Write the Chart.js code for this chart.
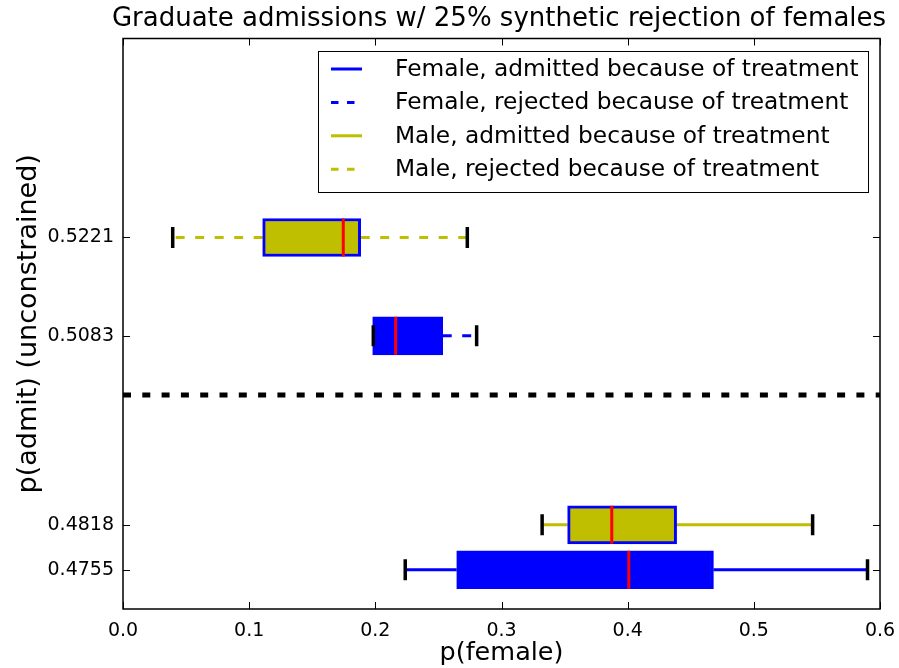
<!DOCTYPE html>
<html>
<head>
<meta charset="utf-8">
<title>Graduate admissions w/ 25% synthetic rejection of females</title>
<script src="https://cdn.jsdelivr.net/npm/chart.js"></script>
<style>
    html, body { margin: 0; padding: 0; background: #ffffff; }
    #wrap { width: 899px; height: 668px; }
</style>
</head>
<body>
<div id="wrap"><canvas id="admissionsBoxChart" width="899" height="668"></canvas></div>
<script>
const titleText = 'Graduate admissions w/ 25% synthetic rejection of females';
const xAxisLabel = 'p(female)';
const yAxisLabel = 'p(admit) (unconstrained)';

// one entry per box, top to bottom
const boxGroups = ['male-rejected', 'female-rejected', 'male-admitted', 'female-admitted'];
const admitLevels = [0.5221, 0.5083, 0.4818, 0.4755];
const whiskerLow = [0.0394, 0.1984, 0.3322, 0.2237];
const quartileLow = [0.1107, 0.1979, 0.3524, 0.2645];
const medians = [0.1746, 0.2161, 0.3874, 0.4009];
const quartileHigh = [0.1884, 0.2534, 0.4388, 0.4680];
const whiskerHigh = [0.2729, 0.2803, 0.5466, 0.5901];

const thresholdLevel = 0.5;
const xTickValues = [0.0, 0.1, 0.2, 0.3, 0.4, 0.5, 0.6];
const yTickValues = [0.4755, 0.4818, 0.5083, 0.5221];

const legendGroups = ['female-admitted', 'female-rejected', 'male-admitted', 'male-rejected'];
const legendLabels = [
    'Female, admitted because of treatment',
    'Female, rejected because of treatment',
    'Male, admitted because of treatment',
    'Male, rejected because of treatment',
];

const FONT = '"DejaVu Sans", "Liberation Sans", sans-serif';
const BLUE = '#0000ff';
const OLIVE = '#bfbf00';
const RED = '#ff0000';
const BLACK = '#000000';
const WHISKER_DASH = [9, 10.5];

const groupStyles = {
    'female-admitted': { color: BLUE, dash: [] },
    'female-rejected': { color: BLUE, dash: WHISKER_DASH },
    'male-admitted': { color: OLIVE, dash: [] },
    'male-rejected': { color: OLIVE, dash: WHISKER_DASH },
};

Chart.defaults.font.family = FONT;
Chart.defaults.color = BLACK;

const whiskerDatasets = boxGroups.map((group, i) => ({
    type: 'line',
    label: group + ' whiskers',
    data: [
        { x: quartileLow[i], y: admitLevels[i] },
        { x: whiskerLow[i], y: admitLevels[i] },
        { x: null, y: admitLevels[i] },
        { x: quartileHigh[i], y: admitLevels[i] },
        { x: whiskerHigh[i], y: admitLevels[i] },
    ],
    borderColor: groupStyles[group].color,
    borderDash: groupStyles[group].dash,
    borderWidth: 3,
    borderCapStyle: 'butt',
    pointRadius: 0,
    spanGaps: false,
    fill: false,
    order: 3,
}));

// title centred over the axes, ticks pointing inward, frame and legend box
const frameAndLegend = {
    id: 'frameAndLegend',
    afterDraw(chart) {
        const { ctx, chartArea: area, scales } = chart;
        const tickLen = 7;

        ctx.save();

        ctx.fillStyle = BLACK;
        ctx.font = '26px ' + FONT;
        ctx.textAlign = 'center';
        ctx.textBaseline = 'middle';
        ctx.fillText(titleText, (area.left + area.right) / 2 - 2.5, 19.5);

        ctx.strokeStyle = BLACK;
        ctx.lineWidth = 1;
        ctx.beginPath();
        scales.x.ticks.forEach((tick) => {
            const px = Math.round(scales.x.getPixelForValue(tick.value)) + 0.5;
            ctx.moveTo(px, area.bottom);
            ctx.lineTo(px, area.bottom - tickLen);
            ctx.moveTo(px, area.top);
            ctx.lineTo(px, area.top + tickLen);
        });
        scales.y.ticks.forEach((tick) => {
            const py = Math.round(scales.y.getPixelForValue(tick.value)) + 0.5;
            ctx.moveTo(area.left, py);
            ctx.lineTo(area.left + tickLen, py);
            ctx.moveTo(area.right, py);
            ctx.lineTo(area.right - tickLen, py);
        });
        ctx.stroke();

        ctx.lineWidth = 1.5;
        ctx.strokeRect(area.left, area.top, area.right - area.left, area.bottom - area.top);

        const box = { left: 318.5, top: 51.5, width: 550, height: 141 };
        ctx.fillStyle = '#ffffff';
        ctx.fillRect(box.left, box.top, box.width, box.height);
        ctx.lineWidth = 1;
        ctx.strokeStyle = BLACK;
        ctx.strokeRect(box.left, box.top, box.width, box.height);

        ctx.font = '23.3px ' + FONT;
        ctx.textAlign = 'left';
        legendLabels.forEach((label, i) => {
            const rowY = 69 + i * 33.4;
            const style = groupStyles[legendGroups[i]];
            ctx.beginPath();
            ctx.setLineDash(style.dash.length ? [7.5, 8.5] : []);
            ctx.lineCap = 'butt';
            ctx.lineWidth = 3;
            ctx.strokeStyle = style.color;
            ctx.moveTo(331, rowY);
            ctx.lineTo(362, rowY);
            ctx.stroke();
            ctx.setLineDash([]);
            ctx.fillStyle = BLACK;
            ctx.fillText(label, 395, rowY + 1);
        });

        ctx.restore();
    },
};

new Chart(document.getElementById('admissionsBoxChart'), {
    data: {
        datasets: [
            {
                type: 'scatter',
                label: 'medians',
                data: admitLevels.map((y, i) => ({ x: medians[i], y })),
                pointStyle: 'line',
                pointRotation: 90,
                pointRadius: 19,
                pointBorderWidth: 3,
                pointBorderColor: RED,
                order: 0,
            },
            {
                type: 'scatter',
                label: 'caps',
                data: admitLevels.flatMap((y, i) => [
                    { x: whiskerLow[i], y },
                    { x: whiskerHigh[i], y },
                ]),
                pointStyle: 'line',
                pointRotation: 90,
                pointRadius: 10.5,
                pointBorderWidth: 3.5,
                pointBorderColor: BLACK,
                order: 1,
            },
            {
                type: 'bar',
                label: 'boxes',
                indexAxis: 'y',
                data: admitLevels.map((y, i) => ({ y, x: [quartileLow[i], quartileHigh[i]] })),
                backgroundColor: boxGroups.map((group) => groupStyles[group].color),
                borderColor: BLUE,
                borderWidth: 3,
                borderSkipped: false,
                barThickness: 38,
                grouped: false,
                order: 2,
            },
            ...whiskerDatasets,
            {
                type: 'line',
                label: 'threshold',
                data: [
                    { x: xTickValues[0], y: thresholdLevel },
                    { x: xTickValues[xTickValues.length - 1], y: thresholdLevel },
                ],
                borderColor: BLACK,
                borderWidth: 5,
                borderDash: [8, 11.3],
                borderCapStyle: 'butt',
                pointRadius: 0,
                fill: false,
                order: 4,
            },
        ],
    },
    options: {
        responsive: false,
        animation: false,
        devicePixelRatio: 1,
        events: [],
        layout: {
            autoPadding: false,
            padding: { left: 0, right: 19, top: 38.5, bottom: 0 },
        },
        plugins: {
            legend: { display: false },
            tooltip: { enabled: false },
            title: { display: false },
        },
        scales: {
            x: {
                type: 'linear',
                position: 'bottom',
                min: 0,
                max: 0.6,
                offset: false,
                grid: { display: false, drawTicks: false, offset: false },
                border: { display: false },
                afterBuildTicks: (scale) => {
                    scale.ticks = xTickValues.map((value) => ({ value }));
                },
                afterFit: (scale) => {
                    scale.height = 59;
                    scale.paddingLeft = 0;
                    scale.paddingRight = 0;
                },
                ticks: {
                    autoSkip: false,
                    maxRotation: 0,
                    padding: 11,
                    color: BLACK,
                    font: { family: FONT, size: 19 },
                    callback: (value) => Number(value).toFixed(1),
                },
                title: {
                    display: true,
                    text: xAxisLabel,
                    color: BLACK,
                    font: { family: FONT, size: 25.5 },
                    padding: { top: 0, bottom: -1 },
                },
            },
            y: {
                type: 'linear',
                position: 'left',
                min: 0.47,
                max: 0.55,
                offset: false,
                grid: { display: false, drawTicks: false, offset: false },
                border: { display: false },
                afterBuildTicks: (scale) => {
                    scale.ticks = yTickValues.map((value) => ({ value }));
                },
                afterFit: (scale) => {
                    scale.width = 123;
                    scale.paddingTop = 0;
                    scale.paddingBottom = 0;
                },
                ticks: {
                    autoSkip: false,
                    padding: 9,
                    color: BLACK,
                    font: { family: FONT, size: 19 },
                    callback: (value) => Number(value).toFixed(4),
                },
                title: {
                    display: true,
                    text: yAxisLabel,
                    color: BLACK,
                    font: { family: FONT, size: 27 },
                    padding: { top: 13, bottom: 0 },
                },
            },
        },
    },
    plugins: [frameAndLegend],
});
</script>
</body>
</html>
